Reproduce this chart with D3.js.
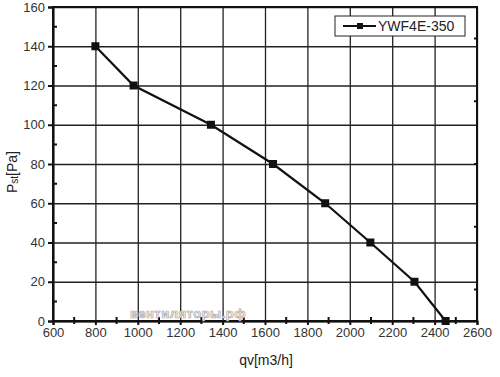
<!DOCTYPE html>
<html>
<head>
<meta charset="utf-8">
<script src="https://cdn.jsdelivr.net/npm/d3@7"></script>
</head>
<body style="margin:0">
<div style="position:relative;width:500px;height:377px">
<svg id="gridlayer" width="500" height="377" style="position:absolute;left:0;top:0"></svg>
<svg id="chart" width="500" height="377" style="position:absolute;left:0;top:0" font-family="Liberation Sans, Arial, sans-serif"></svg>
</div>
<script>
// data
const flow = [800, 980, 1345, 1638, 1884, 2097, 2305, 2452];
const pressure = [140, 120, 100, 80, 60, 40, 20, 0];
const seriesName = 'YWF4E-350';
const xTicks = [600, 800, 1000, 1200, 1400, 1600, 1800, 2000, 2200, 2400, 2600];
const yTicks = [0, 20, 40, 60, 80, 100, 120, 140, 160];
const rightTicks = [16, 48, 80, 112, 144];

const width = 500, height = 377;
const margin = {top: 7, right: 23, bottom: 56, left: 53};

const svg = d3.select('#chart');
const gridSvg = d3.select('#gridlayer');

const x = d3.scaleLinear().domain([600, 2600]).range([margin.left, width - margin.right]);
const y = d3.scaleLinear().domain([0, 160]).range([height - margin.bottom, margin.top]);

const plotW = x(2600) - x(600);
const plotH = y(0) - y(160);

// grid in its own layer underneath, using axis generators
gridSvg.append('g')
  .attr('transform', `translate(0,${y(0)})`)
  .call(d3.axisBottom(x).tickValues(xTicks).tickSize(-plotH).tickFormat(''))
  .call(g => g.select('.domain').remove())
  .call(g => g.selectAll('.tick line').attr('stroke', '#222').attr('stroke-width', 1.3));

gridSvg.append('g')
  .attr('transform', `translate(${x(600)},0)`)
  .call(d3.axisLeft(y).tickValues(yTicks).tickSize(-plotW).tickFormat(''))
  .call(g => g.select('.domain').remove())
  .call(g => g.selectAll('.tick line').attr('stroke', '#222').attr('stroke-width', 1.3));

// frame
const frame = d3.path();
frame.rect(x(600), y(160), plotW, plotH);
svg.append('path')
  .attr('d', frame.toString())
  .attr('fill', 'none').attr('stroke', '#111').attr('stroke-width', 2);

// axes
const xAxis = d3.axisBottom(x).tickValues(xTicks).tickSize(4).tickPadding(3).tickFormat(d3.format('d'));
const yAxis = d3.axisLeft(y).tickValues(yTicks).tickSize(5).tickPadding(3);

const gx = svg.append('g').attr('transform', `translate(0,${y(0)})`).call(xAxis);
const gy = svg.append('g').attr('transform', `translate(${x(600)},0)`).call(yAxis);

[gx, gy].forEach(a => {
  a.attr('font-family', null);
  a.select('.domain').attr('stroke', '#111').attr('stroke-width', 2);
  a.selectAll('.tick line').attr('stroke', '#111').attr('stroke-width', 2);
  a.selectAll('.tick text')
    .attr('fill', '#333').attr('font-size', 13);
});

// minor ticks
const minor = d3.path();
d3.range(700, 2600, 200).forEach(d => { minor.moveTo(x(d), y(0) + 3); minor.lineTo(x(d), y(0) - 4); });
d3.range(10, 160, 20).forEach(d => { minor.moveTo(x(600) - 1, y(d)); minor.lineTo(x(600) + 4, y(d)); });
rightTicks.forEach(d => { minor.moveTo(x(2600) - 3, y(d)); minor.lineTo(x(2600), y(d)); });
svg.append('path')
  .attr('d', minor.toString())
  .attr('fill', 'none')
  .attr('stroke', '#111')
  .attr('stroke-width', 2);

// watermark
svg.append('text')
  .attr('x', 188).attr('y', 318)
  .attr('text-anchor', 'middle')
  .attr('font-size', 13).attr('font-weight', 'bold')
  .attr('letter-spacing', 0.5)
  .attr('fill', '#f4f4f4').attr('stroke', '#a8a8a8').attr('stroke-width', 0.7)
  .text('вентиляторы.рф');

// series
const pts = flow.map((d, i) => [d, pressure[i]]);

svg.append('path')
  .datum(pts)
  .attr('fill', 'none')
  .attr('stroke', '#111')
  .attr('stroke-width', 2.2)
  .attr('d', d3.line().x(d => x(d[0])).y(d => y(d[1])));

svg.append('g').selectAll('rect')
  .data(pts)
  .join('rect')
  .attr('x', d => x(d[0]) - 4).attr('y', d => y(d[1]) - 4)
  .attr('width', 8).attr('height', 8)
  .attr('fill', '#111');

// legend
const lg = svg.append('g');
lg.append('rect')
  .attr('x', 335).attr('y', 16).attr('width', 130).attr('height', 20)
  .attr('fill', '#fff').attr('stroke', '#222').attr('stroke-width', 1);
lg.append('line')
  .attr('x1', 343).attr('x2', 376).attr('y1', 26).attr('y2', 26)
  .attr('stroke', '#111').attr('stroke-width', 2.2);
lg.append('rect')
  .attr('x', 357).attr('y', 23).attr('width', 6).attr('height', 6)
  .attr('fill', '#111');
lg.append('text')
  .attr('x', 378).attr('y', 31)
  .attr('font-size', 14).attr('fill', '#222')
  .text(seriesName);

// axis titles
svg.append('text')
  .attr('x', 266).attr('y', 365)
  .attr('text-anchor', 'middle')
  .attr('font-size', 14).attr('fill', '#222')
  .text('qv[m3/h]');

const yt = svg.append('text')
  .attr('transform', 'translate(17,172) rotate(-90)')
  .attr('text-anchor', 'middle')
  .attr('font-size', 14).attr('fill', '#222');
yt.append('tspan').text('P');
yt.append('tspan').attr('font-size', 10).attr('dy', 1).text('st');
yt.append('tspan').attr('dy', -1).text('[Pa]');
</script>
</body>
</html>
